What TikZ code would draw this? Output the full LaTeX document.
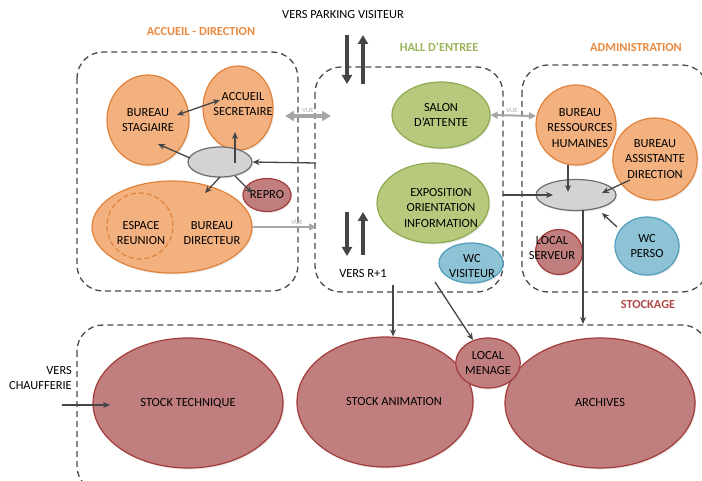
\documentclass[tikz,border=0pt]{standalone}
\usepackage{fontspec}
\setmainfont{Carlito}
\usetikzlibrary{arrows.meta,shapes.geometric,calc,shadows}

\definecolor{orfill}{HTML}{F2B17F}
\definecolor{ordraw}{HTML}{E2823A}
\definecolor{grfill}{HTML}{B7C97C}
\definecolor{grdraw}{HTML}{8FAA50}
\definecolor{blfill}{HTML}{8EC3D5}
\definecolor{bldraw}{HTML}{4E9EBB}
\definecolor{rdfill}{HTML}{C07F7E}
\definecolor{rddraw}{HTML}{A33B3A}
\definecolor{hubfill}{HTML}{D3D3D3}
\definecolor{hubdraw}{HTML}{6E6E6E}
\definecolor{linkcol}{HTML}{454545}
\definecolor{vuecol}{HTML}{A6A6A6}
\definecolor{zonecol}{HTML}{4A4A4A}
\definecolor{ortitle}{HTML}{E8893F}
\definecolor{grtitle}{HTML}{9AB45A}
\definecolor{rdtitle}{HTML}{B04A4A}

\tikzset{
  zone/.style={draw=zonecol, line width=1.3pt, dash pattern=on 6pt off 4pt, rounded corners=26pt},
  room/.style={ellipse, line width=1.2pt, inner sep=0pt, align=center,
    font=\fontsize{12.4}{15.5}\selectfont, text=black,
    drop shadow={opacity=0.18, shadow xshift=1.2pt, shadow yshift=-1.5pt}},
  orroom/.style={room, fill=orfill, draw=ordraw},
  grroom/.style={room, fill=grfill, draw=grdraw},
  blroom/.style={room, fill=blfill, draw=bldraw},
  rdroom/.style={room, fill=rdfill, draw=rddraw},
  hub/.style={ellipse, inner sep=0pt, fill=hubfill, draw=hubdraw, line width=1.2pt,
    drop shadow={opacity=0.18, shadow xshift=1.2pt, shadow yshift=-1.5pt}},
  txt/.style={align=center, inner sep=0pt, font=\fontsize{12.4}{15.5}\selectfont},
  zonetitle/.style={inner sep=0pt, font=\fontsize{12.3}{14}\selectfont\bfseries},
  link/.style={draw=linkcol, line width=1.3pt, -{Stealth[length=7pt,width=6pt]}},
  lift/.style={draw=linkcol, line width=3.2pt, -{Triangle[length=9pt,width=10pt]}},
  vue/.style={draw=vuecol, -{Triangle[length=7pt,width=7pt]}},
  vuelabel/.style={inner sep=0pt, font=\fontsize{6.5}{6.5}\selectfont, text=vuecol},
}

\begin{document}
\begin{tikzpicture}[x=1pt,y=-1pt]
\useasboundingbox (0,0) rectangle (702,481);

% zones
\draw[zone] (77,52) rectangle (298,291);
\draw[zone] (315,67) rectangle (503,292);
\draw[zone] (522,65) rectangle (708,292);
\draw[zone] (77,325) rectangle (708,492);

% zone titles
\node[zonetitle, text=ortitle] (tAccueil) at (201,32) {ACCUEIL - DIRECTION};
\node[zonetitle, text=grtitle] (tHall) at (439,47) {HALL D’ENTREE};
\node[zonetitle, text=ortitle] (tAdmin) at (636,48) {ADMINISTRATION};
\node[zonetitle, text=rdtitle] (tStock) at (648,305) {STOCKAGE};
\node[txt] (parking) at (343,15) {VERS PARKING VISITEUR};

% accueil - direction
\node[orroom, minimum width=82pt, minimum height=90pt] (stag) at (148,120) {BUREAU\\STAGIAIRE};
\node[orroom, minimum width=70pt, minimum height=84pt] (acc) at (238,108) {};
\node[txt] (acctxt) at (243,104) {ACCUEIL\\SECRETAIRE};
\node[orroom, minimum width=160pt, minimum height=92pt] (dir) at (172,227) {};
\node[circle, draw=ordraw, line width=1.2pt, dash pattern=on 5pt off 3pt, minimum size=66pt, inner sep=0pt] (reunion) at (140,226) {};
\node[txt] (reuniontxt) at (141,233) {ESPACE\\REUNION};
\node[txt] (dirtxt) at (212,233) {BUREAU\\DIRECTEUR};
\node[hub, minimum width=64pt, minimum height=30pt] (hubA) at (220,162) {};
\node[rdroom, minimum width=33pt, minimum height=33pt] (repro) at (267,195) {REPRO};

% hall d'entree
\node[grroom, minimum width=98pt, minimum height=66pt] (salon) at (441,115) {SALON\\D’ATTENTE};
\node[grroom, minimum width=112pt, minimum height=80pt] (expo) at (433,203) {};
\node[txt] (expotxt) at (441,208) {EXPOSITION\\ORIENTATION\\INFORMATION};
\node[blroom, minimum width=64pt, minimum height=40pt] (wcv) at (471,263) {};
\node[txt] (wcvtxt) at (472,266) {WC\\VISITEUR};
\node[txt] (r1) at (363,274) {VERS R+1};

% administration
\node[orroom, minimum width=80pt, minimum height=80pt] (rh) at (576,125) {};
\node[txt] (rhtxt) at (580,128) {BUREAU\\RESSOURCES\\HUMAINES};
\node[orroom, minimum width=80pt, minimum height=82pt] (assist) at (655,159) {BUREAU\\ASSISTANTE\\DIRECTION};
\node[hub, minimum width=80pt, minimum height=31pt] (hubB) at (576,195) {};
\node[rdroom, minimum width=47pt, minimum height=45pt] (serveur) at (559,252) {};
\node[txt] (serveurtxt) at (552,248) {LOCAL\\SERVEUR};
\node[blroom, minimum width=64pt, minimum height=58pt] (wcp) at (647,246) {WC\\PERSO};

% stockage
\node[rdroom, minimum width=190pt, minimum height=130pt] (stech) at (188,403) {STOCK TECHNIQUE};
\node[rdroom, minimum width=176pt, minimum height=130pt] (sanim) at (385,402) {};
\node[txt] (sanimtxt) at (394,402) {STOCK ANIMATION};
\node[rdroom, minimum width=190pt, minimum height=130pt] (arch) at (600,403) {ARCHIVES};
\node[rdroom, minimum width=64pt, minimum height=50pt] (menage) at (488,363) {LOCAL\\MENAGE};
\node[txt, align=right, anchor=east] (chauff) at (72,378) {VERS\\CHAUFFERIE};

% free ends of connectors
\coordinate (hallW) at (316,163);
\coordinate (hallE) at (503,195);
\coordinate (vueL) at (285,116);
\coordinate (vueR) at (331,116);
\coordinate (dirvue) at (316,227);
\coordinate (parkDownTop) at (347,35);
\coordinate (parkDownTip) at (347,84);
\coordinate (parkUpBot) at (363,84);
\coordinate (parkUpTip) at (363,35);
\coordinate (r1DownTop) at (347,212);
\coordinate (r1DownTip) at (347,256);
\coordinate (r1UpBot) at (363,255);
\coordinate (r1UpTip) at (363,212);
\coordinate (hallS1) at (393,285);
\coordinate (hallS2) at (435,282);
\coordinate (stockN) at (583,324);
\coordinate (chauffIn) at (62,405);

% lifts / stairs
\draw[lift] (parkDownTop) -- (parkDownTip);
\draw[lift] (parkUpBot) -- (parkUpTip);
\draw[lift] (r1DownTop) -- (r1DownTip);
\draw[lift] (r1UpBot) -- (r1UpTip);

% circulation in accueil - direction
\draw[link, {Stealth[length=7pt,width=6pt]}-{Stealth[length=7pt,width=6pt]}]
  ($(stag.center)+(29,-5)$) -- ($(acc.center)+(-18,-8)$);
\draw[link] ($(hubA.center)+(-30,-4)$) -- ($(stag.center)+(10,24)$);
\draw[link] ($(hubA.center)+(15,1)$) -- ($(acc.center)+(-3,24)$);
\draw[link] ($(hubA.center)+(0,15)$) -- ($(dir.center)+(33,-34)$);
\draw[link] ($(hubA.center)+(15,14)$) -- ($(repro.center)+(-15,-2)$);
\draw[link] (hallW) -- (hubA.east);

% views
\draw[vue, line width=3.5pt, {Triangle[length=9pt,width=10pt]}-{Triangle[length=9pt,width=10pt]}] (vueL) -- (vueR);
\node[vuelabel] (vue1) at (308,110) {VUE};
\draw[vue, line width=1.6pt] (dir.east) -- (dirvue);
\node[vuelabel] (vue2) at (297,222) {VUE};
\draw[vue, line width=2pt, {Triangle[length=7pt,width=7pt]}-{Triangle[length=7pt,width=7pt]}] (salon.east) -- ($(rh.center)+(-40,-9)$);
\node[vuelabel] (vue3) at (512,110) {VUE};

% circulation in administration
\draw[link] (hallE) -- ($(hubB.center)+(-23,0)$);
\draw[link] ($(rh.center)+(-8,40)$) -- ($(hubB.center)+(-8,-3)$);
\draw[link] ($(assist.center)+(-25,21)$) -- ($(hubB.center)+(26,-2)$);
\draw[link] ($(wcp.center)+(-30,-19)$) -- ($(hubB.center)+(26,18)$);
\draw[link] ($(hubB.center)+(7,15)$) -- (stockN);

% towards storage
\draw[link] (hallS1) -- (sanim.north -| hallS1);
\draw[link] (hallS2) -- ($(menage.center)+(-15,-23)$);
\draw[link] (chauffIn) -- ($(stech.center)+(-78,2)$);

\end{tikzpicture}
\end{document}
